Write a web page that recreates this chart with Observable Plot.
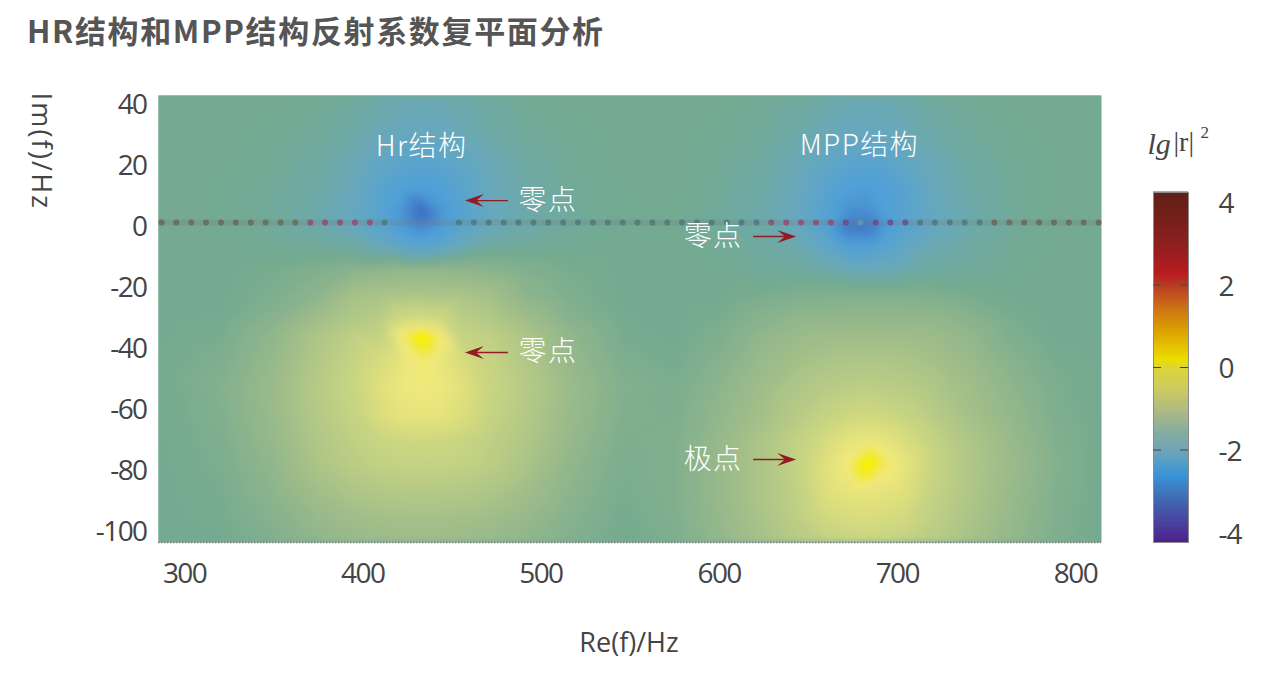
<!DOCTYPE html>
<html lang="zh">
<head>
<meta charset="utf-8">
<script src="https://cdn.jsdelivr.net/npm/d3@7"></script>
<script src="https://cdn.jsdelivr.net/npm/@observablehq/plot@0.6"></script>
<style>
html,body{margin:0;padding:0;background:#fff;overflow:hidden}
#page{width:1268px;height:678px}
h1{margin:0;height:70px;box-sizing:border-box;padding:9px 0 0 27px;font:700 31px/42px "Noto Sans CJK SC",sans-serif;color:#555;letter-spacing:1.65px;white-space:nowrap}
#row{display:flex;width:1268px}
svg{display:block;flex:none}
</style>
</head>
<body>
<div id="page">
<h1>HR结构和MPP结构反射系数复平面分析</h1>
<div id="row"></div>
</div>
<script>
// ---- data ----
const reHz = [285,320,350,375,395,411,423,433,443,455,471,491,516,546,575,600,625,645,661,673,683,693,705,721,741,766,790,815];
const imHz = [43,30,20,12,5,0,-6,-14,-22,-30,-36,-44,-52,-62,-70,-78,-88,-96,-104];
const lgRows = [
[-1.6,-1.6,-1.6,-1.65,-1.72,-1.82,-1.88,-1.9,-1.88,-1.82,-1.72,-1.65,-1.6,-1.6,-1.6,-1.6,-1.65,-1.72,-1.82,-1.88,-1.9,-1.88,-1.82,-1.72,-1.65,-1.6,-1.6,-1.6],
[-1.6,-1.6,-1.63,-1.7,-1.82,-1.95,-2.03,-2.05,-2.03,-1.95,-1.82,-1.7,-1.63,-1.6,-1.6,-1.63,-1.7,-1.82,-1.95,-2.03,-2.05,-2.03,-1.95,-1.82,-1.7,-1.63,-1.6,-1.6],
[-1.6,-1.6,-1.66,-1.78,-1.95,-2.2,-2.35,-2.4,-2.35,-2.2,-1.95,-1.78,-1.66,-1.6,-1.6,-1.66,-1.78,-1.95,-2.2,-2.37,-2.42,-2.37,-2.2,-1.95,-1.78,-1.66,-1.6,-1.6],
[-1.6,-1.62,-1.68,-1.8,-2.0,-2.4,-2.58,-2.65,-2.58,-2.4,-2.0,-1.8,-1.68,-1.62,-1.6,-1.68,-1.8,-2.0,-2.4,-2.6,-2.65,-2.58,-2.38,-2.0,-1.8,-1.68,-1.6,-1.6],
[-1.6,-1.62,-1.7,-1.85,-2.05,-2.45,-2.8,-3.4,-2.8,-2.45,-2.05,-1.85,-1.7,-1.62,-1.6,-1.7,-1.85,-2.05,-2.45,-2.85,-2.85,-2.6,-2.35,-2.05,-1.85,-1.68,-1.6,-1.6],
[-1.6,-1.62,-1.7,-1.85,-2.0,-2.35,-2.7,-2.95,-2.7,-2.35,-2.0,-1.85,-1.7,-1.62,-1.6,-1.7,-1.85,-2.05,-2.55,-3.2,-3.2,-2.7,-2.4,-2.05,-1.85,-1.68,-1.6,-1.6],
[-1.6,-1.6,-1.65,-1.7,-1.75,-2.0,-2.3,-2.4,-2.3,-2.0,-1.75,-1.7,-1.65,-1.6,-1.6,-1.65,-1.75,-1.9,-2.25,-2.6,-2.62,-2.45,-2.15,-1.9,-1.75,-1.65,-1.6,-1.6],
[-1.6,-1.6,-1.55,-1.47,-1.38,-1.33,-1.3,-1.3,-1.3,-1.33,-1.38,-1.47,-1.55,-1.6,-1.6,-1.62,-1.7,-1.75,-1.85,-1.95,-2.0,-1.95,-1.85,-1.75,-1.7,-1.62,-1.6,-1.6],
[-1.6,-1.6,-1.5,-1.35,-1.1,-1.05,-1.05,-1.05,-1.05,-1.05,-1.1,-1.35,-1.5,-1.6,-1.6,-1.6,-1.55,-1.5,-1.47,-1.45,-1.45,-1.45,-1.47,-1.5,-1.55,-1.6,-1.6,-1.6],
[-1.6,-1.58,-1.4,-1.15,-.95,-.85,-.6,-.55,-.6,-.85,-.95,-1.15,-1.4,-1.58,-1.6,-1.55,-1.4,-1.3,-1.3,-1.3,-1.3,-1.3,-1.3,-1.3,-1.4,-1.55,-1.6,-1.6],
[-1.6,-1.55,-1.3,-1.0,-.8,-.72,-.05,.3,-.05,-.72,-.8,-1.0,-1.3,-1.55,-1.6,-1.5,-1.3,-1.2,-1.17,-1.15,-1.15,-1.15,-1.17,-1.2,-1.3,-1.5,-1.6,-1.6],
[-1.6,-1.5,-1.25,-.95,-.72,-.5,-.25,-.1,-.25,-.5,-.72,-.95,-1.25,-1.5,-1.57,-1.42,-1.22,-1.1,-1.03,-1.0,-1.0,-1.0,-1.03,-1.1,-1.22,-1.42,-1.57,-1.6],
[-1.6,-1.45,-1.2,-.9,-.68,-.35,-.18,-.15,-.18,-.35,-.68,-.9,-1.2,-1.45,-1.52,-1.35,-1.15,-1.0,-.9,-.87,-.85,-.87,-.9,-1.0,-1.15,-1.35,-1.52,-1.6],
[-1.6,-1.47,-1.22,-.92,-.72,-.45,-.3,-.28,-.3,-.45,-.72,-.92,-1.22,-1.47,-1.5,-1.3,-1.1,-.88,-.72,-.62,-.6,-.62,-.72,-.88,-1.1,-1.3,-1.5,-1.6],
[-1.6,-1.5,-1.25,-.97,-.8,-.67,-.62,-.6,-.62,-.67,-.8,-.97,-1.25,-1.5,-1.47,-1.25,-1.0,-.75,-.5,-.3,-.25,-.3,-.5,-.75,-1.0,-1.25,-1.47,-1.6],
[-1.6,-1.52,-1.3,-1.02,-.85,-.77,-.75,-.75,-.75,-.77,-.85,-1.02,-1.3,-1.52,-1.47,-1.25,-1.0,-.72,-.35,-.1,.3,-.03,-.3,-.7,-.98,-1.22,-1.45,-1.6],
[-1.6,-1.55,-1.35,-1.15,-1.02,-.97,-.95,-.95,-.95,-.97,-1.02,-1.15,-1.35,-1.55,-1.47,-1.25,-1.0,-.77,-.42,-.33,-.3,-.33,-.42,-.77,-1.0,-1.25,-1.47,-1.6],
[-1.6,-1.57,-1.42,-1.25,-1.15,-1.12,-1.1,-1.1,-1.1,-1.12,-1.15,-1.25,-1.42,-1.57,-1.48,-1.27,-1.03,-.82,-.6,-.52,-.5,-.52,-.6,-.82,-1.03,-1.27,-1.48,-1.6],
[-1.6,-1.6,-1.47,-1.33,-1.25,-1.22,-1.2,-1.2,-1.2,-1.22,-1.25,-1.33,-1.47,-1.6,-1.5,-1.3,-1.08,-.9,-.78,-.73,-.72,-.73,-.78,-.9,-1.08,-1.3,-1.5,-1.6]
];
// colours of the field
const fieldLevels = [-3.4,-2.6,-2.0,-1.6,-1.2,-0.8,-0.4,-0.15,0.05,0.2];
const fieldColors = ["#3b6cc0","#50a0d8","#68a8bc","#74aa90","#9cbb8a","#c0d084","#dfe07c","#f0e97c","#f2e840","#f8f000"];
const fieldBase = "#74aa90";
// colours of the colour bar
const barLevels = [-4.24,-3.22,-2.62,-2,-1.53,-1.04,-0.48,0,0.17,0.9,1.46,2,2.27,3,4.24];
const barColors = ["#4f1f8f","#4268b0","#3a94d8","#6fa5b8","#88ae9c","#aebb84","#d0cb5c","#dcd438","#ecdf00","#dca000","#cc7018","#b83a22","#b81c20","#8c2020","#5f2015"];
const barTicks = [4,2,0,-2,-4];
const barInnerTicks = [2,0,-2];
// dotted line on the real axis
const dotRe = [287.1,295.4,303.8,312.1,320.5,328.8,337.2,345.5,353.9,362.2,370.6,378.9,387.3,395.6,404,412.3,420.7,429,437.3,445.7,454,462.4,470.7,479.1,487.4,495.8,504.1,512.5,520.8,529.2,537.5,545.9,554.2,562.6,570.9,579.2,587.6,595.9,604.3,612.6,621,629.3,637.7,646,654.4,662.7,671.1,679.4,687.8,696.1,704.5,712.8,721.1,729.5,737.8,746.2,754.5,762.9,771.2,779.6,787.9,796.3,804.6,813];
const dotTone = "ggggggggggppppptfnnftttttttttttttttttttttpppppvfvvvtttttgggggggg";
const toneColor = {g:"#6a6a58",p:"#8f4f72",t:"#4f7a7c",f:"#5f96b0",v:"#6a4a90",n:"none"};
const dotIm = 1.3;
const xTicks = [300,400,500,600,700,800];
const yTicks = [40,20,0,-20,-40,-60,-80,-100];
const xDomain = [285.4,814.6];
const yDomain = [-103.6,42.95];
// annotations
const labelText = ["Hr结构","MPP结构","零点","零点","零点","极点"];
const labelRe = [433,678.7,504,504,596.6,596.6];
const labelIm = [25.9,26.5,8.5,-41.3,-3.3,-76.4];
const arrowRe = [481.5,481.5,619.1,619.1];
const arrowIm = [8.5,-41.3,-3.3,-76.4];
const arrowTurn = [-90,-90,90,90];

// ---- tables for the marks ----
const grid = imHz.flatMap((im,i)=>reHz.map((re,j)=>({re,im,lg:lgRows[i][j]})));
const dots = dotRe.map((re,i)=>({re,tone:dotTone[i]})).filter(d=>d.tone!=="n");
const labels = labelText.map((t,i)=>({t,re:labelRe[i],im:labelIm[i]}));
const arrows = arrowRe.map((re,i)=>({re,im:arrowIm[i],turn:arrowTurn[i]}));
const arrowShape = {draw(c,l){
  c.moveTo(-0.7,0);c.lineTo(-0.7,-l+12);c.lineTo(-6.5,-l+19);c.lineTo(0,-l);c.lineTo(6.5,-l+19);c.lineTo(0.7,-l+12);c.lineTo(0.7,0);c.closePath();
}};

const main = Plot.plot({
  width:1130,height:608,marginLeft:158,marginRight:29,marginTop:25,marginBottom:136,
  style:{fontFamily:"'Open Sans',sans-serif",background:"transparent",color:"#444"},
  x:{domain:xDomain},
  y:{domain:yDomain},
  color:{type:"linear",domain:fieldLevels,range:fieldColors,clamp:true,interpolate:"rgb"},
  marks:[
    Plot.frame({fill:fieldBase,stroke:"none"}),
    Plot.raster(grid,{x:"re",y:"im",fill:"lg",interpolate:"barycentric",pixelSize:1,clip:"frame"}),
    Plot.ruleY([dotIm],{stroke:"#777",strokeOpacity:.22,strokeWidth:6}),
    Plot.dot(dots,{x:"re",y:()=>dotIm,r:3,fill:d=>toneColor[d.tone],fillOpacity:.88}),
    Plot.ruleY([yDomain[0]],{stroke:"#777",strokeWidth:1.5,strokeDasharray:"1.5 1.5"}),
    Plot.axisX(xTicks,{tickSize:0,tickPadding:21,fontSize:28,label:null}),
    Plot.axisY(yTicks,{tickSize:0,tickPadding:12,dy:1,fontSize:28,label:null,tickFormat:d=>String(d)}),
    Plot.text(["Re(f)/Hz"],{frameAnchor:"bottom",dy:109,dx:-1,fontSize:27,fill:"#444"}),
    Plot.text(["Im(f)/Hz"],{frameAnchor:"top-left",dx:-107,dy:-3,rotate:90,textAnchor:"start",fontSize:27,fill:"#444"}),
    Plot.text(labels,{x:"re",y:"im",text:"t",fill:"white",fontSize:28,fontFamily:"'Noto Sans CJK SC',sans-serif",fontWeight:300}),
    Plot.vector(arrows,{x:"re",y:"im",rotate:"turn",length:43,anchor:"start",shape:arrowShape,fill:"#901c24",stroke:"none"})
  ]
});

const barSteps = d3.range(-4.24,4.24,0.04);
const bar = Plot.plot({
  width:138,height:608,marginLeft:23,marginRight:80,marginTop:122,marginBottom:136,
  style:{fontFamily:"'Open Sans',sans-serif",background:"transparent",color:"#444",overflow:"visible"},
  x:{domain:[0,1],axis:null},
  y:{domain:[-4.24,4.24],axis:null},
  color:{type:"linear",domain:barLevels,range:barColors,clamp:true,interpolate:"rgb"},
  marks:[
    Plot.rect(barSteps,{x1:()=>0,x2:()=>1,y1:d=>d,y2:d=>d+0.04,fill:d=>d+0.02,insetTop:-0.4,insetBottom:-0.4}),
    Plot.frame({stroke:"#8a8a8a",strokeWidth:1}),
    Plot.tickY(barInnerTicks,{y:d=>d,stroke:"#444",insetRight:27}),
    Plot.tickY(barInnerTicks,{y:d=>d,stroke:"#444",insetLeft:27}),
    Plot.text(barTicks,{y:d=>d,text:d=>String(d),frameAnchor:"right",textAnchor:"start",dx:30,dy:2,fontSize:28,fill:"#444"}),
    Plot.text(["lg"],{frameAnchor:"top-left",textAnchor:"start",dx:-6,dy:-60,fontSize:30,fontFamily:"'Liberation Serif',serif",fontStyle:"italic",fill:"#444"}),
    Plot.text(["|r|"],{frameAnchor:"top-left",textAnchor:"start",dx:20,dy:-61,fontSize:28,fontFamily:"'Liberation Serif',serif",fill:"#444"}),
    Plot.text(["2"],{frameAnchor:"top-left",textAnchor:"start",dx:47,dy:-67,fontSize:17,fontFamily:"'Liberation Serif',serif",fill:"#444"})
  ]
});
// soften the field like the photographed original, and set text tracking
main.querySelectorAll("image").forEach(n=>{n.style.filter="blur(3px)";});
main.querySelectorAll('[aria-label^="x-axis"] text,[aria-label^="y-axis"] text').forEach(n=>{n.style.letterSpacing="-1.6px";});
main.querySelectorAll("text").forEach(n=>{if(n.textContent==="Im(f)/Hz")n.style.letterSpacing="2.2px";});
bar.querySelectorAll('g[font-size="28"] text').forEach(n=>{if(/^-?\d$/.test(n.textContent))n.style.letterSpacing="-1px";});
main.querySelectorAll('[font-family*="CJK"] text').forEach(n=>{n.style.letterSpacing="1.4px";});
document.getElementById("row").append(main,bar);
</script>
</body>
</html>
